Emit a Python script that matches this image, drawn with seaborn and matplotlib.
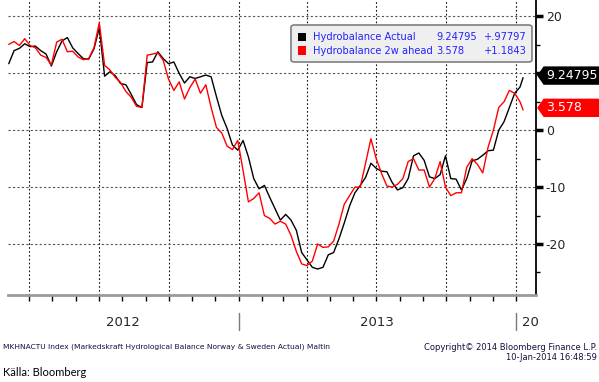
import numpy as np
import pandas as pd
import matplotlib
matplotlib.use('Agg')
import matplotlib.pyplot as plt
import matplotlib.dates as mdates
import matplotlib.ticker as mticker
import matplotlib.transforms as mtrans
from matplotlib.patches import FancyBboxPatch, Polygon, Rectangle
import seaborn as sns

# Weekly readings (Mondays) plus the last print on 10 Jan 2014
dates = list(pd.date_range('2012-03-05', '2014-01-06', freq='7D')) + [pd.Timestamp('2014-01-10')]

actual = [11.7, 14.0, 14.4, 15.2, 14.7, 14.8, 14.0, 13.4, 11.3, 13.8,
          15.7, 16.3, 14.5, 13.5, 12.6, 12.5, 14.3, 18.0, 9.5, 10.3,
          9.6, 8.2, 8.0, 6.3, 4.5, 4.0, 11.9, 12.0, 13.8, 12.6,
          11.7, 12.0, 10.0, 8.3, 9.4, 9.1, 9.4, 9.7, 9.4, 5.9,
          2.6, 0.3, -2.6, -3.5, -1.8, -4.7, -8.5, -10.3, -9.7, -11.8,
          -13.8, -15.8, -14.8, -15.8, -17.6, -21.5, -22.8, -24.1, -24.4, -24.1,
          -21.9, -21.5, -19.1, -16.3, -13.3, -11.0, -9.7, -8.3, -5.8, -6.7,
          -7.2, -7.3, -9.2, -10.5, -10.1, -8.5, -4.5, -4.0, -5.3, -8.2,
          -8.5, -7.8, -4.5, -8.5, -8.6, -10.5, -8.5, -5.4, -5.1, -4.4,
          -3.6, -3.5, 0.0, 1.5, 4.0, 6.5, 7.6, 9.24795]

ahead_2w = [15.1, 15.6, 14.9, 16.1, 14.9, 14.5, 13.2, 12.8, 11.5, 15.5,
            16.0, 13.8, 13.9, 12.9, 12.4, 12.6, 14.5, 18.9, 11.4, 10.6,
            9.3, 8.4, 6.8, 5.8, 4.2, 4.0, 13.2, 13.4, 13.6, 12.3,
            9.0, 7.0, 8.5, 5.5, 7.5, 9.0, 6.5, 8.0, 4.0, 0.5,
            -0.5, -2.8, -3.4, -1.8, -7.1, -12.6, -12.0, -11.0, -15.0, -15.5,
            -16.5, -16.0, -16.5, -18.5, -21.3, -23.5, -23.8, -23.0, -20.0, -20.6,
            -20.5, -19.5, -16.5, -13.0, -11.5, -10.0, -10.0, -5.8, -1.5, -5.0,
            -7.6, -9.8, -10.0, -9.5, -8.5, -5.5, -5.0, -7.0, -7.0, -10.0,
            -8.5, -5.5, -10.0, -11.5, -11.0, -11.0, -6.5, -5.0, -6.0, -7.5,
            -3.0, 0.0, 4.0, 5.0, 7.0, 6.5, 5.0, 3.578]

series_names = ['Hydrobalance Actual', 'Hydrobalance 2w ahead']
series_colors = ['black', 'red']
last_values = ['9.24795', '3.578']
changes = ['+.97797', '+1.1843']

df = pd.DataFrame({'date': dates * 2,
                   'value': actual + ahead_2w,
                   'series': [series_names[0]] * len(dates) + [series_names[1]] * len(dates)})

sns.set_style('white')
plt.rcParams['font.family'] = ['DejaVu Sans']

W, H = 599, 382
fig = plt.figure(figsize=(W / 100, H / 100), dpi=100)
ax = fig.add_axes([8 / W, 1 - 295 / H, 528 / W, 295 / H])

sns.lineplot(data=df, x='date', y='value', hue='series',
             palette=dict(zip(series_names, series_colors)),
             linewidth=1.0, legend=False, ax=ax)

ax.set_xlim(pd.Timestamp('2012-03-04'), pd.Timestamp('2014-01-27'))
ax.set_ylim(-28.97, 22.9)
ax.set_xlabel('')
ax.set_ylabel('')

# axes frame
for s in ['top', 'left']:
    ax.spines[s].set_visible(False)
ax.spines['right'].set_color('black')
ax.spines['right'].set_linewidth(1.3)
ax.spines['bottom'].set_color('#9a9a9a')
ax.spines['bottom'].set_linewidth(2)

# x ticks: monthly marks, quarterly grid
ax.xaxis.set_major_locator(mdates.MonthLocator(bymonth=[1, 4, 7, 10]))
ax.xaxis.set_minor_locator(mdates.MonthLocator())
ax.xaxis.set_major_formatter(mticker.NullFormatter())
ax.tick_params(axis='x', which='both', direction='out', length=4, width=1,
               color='black', bottom=True)

# y ticks on the right
ax.yaxis.tick_right()
ax.yaxis.set_major_locator(mticker.MultipleLocator(10))
ax.yaxis.set_minor_locator(mticker.MultipleLocator(5))
ax.yaxis.set_major_formatter(mticker.FuncFormatter(lambda v, p: '' if round(v) == 10 else f'{v:.0f}'))
ax.tick_params(axis='y', which='major', direction='out', length=5, width=2.5,
               color='black', labelsize=9, pad=2, right=True)
ax.tick_params(axis='y', which='minor', direction='out', length=3, width=1,
               color='black', right=True)

ax.xaxis.grid(True, which='major', color='#111111', linestyle=(0, (1.5, 2)), linewidth=0.8)
ax.yaxis.grid(True, which='major', color='#555555', linestyle=(0, (2, 2)), linewidth=0.8)

# year labels under the axis
blend = mtrans.blended_transform_factory(ax.transData, ax.transAxes)
x0 = mdates.date2num(pd.Timestamp('2012-03-04'))
y13 = mdates.date2num(pd.Timestamp('2013-01-01'))
y14 = mdates.date2num(pd.Timestamp('2014-01-01'))
ax.text((x0 + y13) / 2, -0.092, '2012', transform=blend, ha='center', va='center', fontsize=9.5)
ax.text((y13 + y14) / 2, -0.092, '2013', transform=blend, ha='center', va='center', fontsize=9.5)
ax.text(y14 + 8, -0.092, '20', transform=blend, ha='left', va='center', fontsize=9.5)
for xs in [y13, y14]:
    ax.plot([xs, xs], [-0.06, -0.118], transform=blend, color='#7a7a7a', lw=1, clip_on=False)

# last value tags on the right
for val, txt, col in zip([actual[-1], ahead_2w[-1]], last_values, series_colors):
    yc = 130.2 - val * 5.69 - 2
    pts = [(538, yc), (544, yc - 8.5), (599, yc - 8.5), (599, yc + 8.5), (544, yc + 8.5)]
    pts = [(x / W, 1 - y / H) for x, y in pts]
    fig.add_artist(Polygon(pts, closed=True, facecolor=col, edgecolor=col,
                           transform=fig.transFigure, zorder=5))
    fig.text(546 / W, 1 - yc / H, txt, color='white', fontsize=9, va='center', ha='left', zorder=6)

# legend box
fig.add_artist(FancyBboxPatch((291 / W, 1 - 62 / H), 241 / W, 37 / H,
                              boxstyle='round,pad=0,rounding_size=0.006',
                              facecolor='#efefef', edgecolor='#7f7f7f', lw=1.2,
                              transform=fig.transFigure, zorder=5))
for i, (name, col, lv, ch) in enumerate(zip(series_names, series_colors, last_values, changes)):
    yc = 37 + i * 13.5
    fig.add_artist(Rectangle((298 / W, 1 - (yc + 4) / H), 8 / W, 8 / H, facecolor=col,
                             edgecolor='none', transform=fig.transFigure, zorder=6))
    fig.text(313 / W, 1 - yc / H, name, color='#2222ff', fontsize=7.1, va='center', zorder=6)
    fig.text(436 / W, 1 - yc / H, lv, color='#2222ff', fontsize=7.1, va='center', zorder=6)
    fig.text(527 / W, 1 - yc / H, ch, color='#2222ff', fontsize=7.1, va='center', ha='right', zorder=6)

# footer
fig.text(3 / W, 1 - 347 / H,
         'MKHNACTU Index (Markedskraft Hydrological Balance Norway & Sweden Actual) Maltin',
         fontsize=5.4, color='#101040', va='center')
fig.text(597 / W, 1 - 347 / H, 'Copyright\u00a9 2014 Bloomberg Finance L.P.',
         fontsize=6.0, color='#101040', va='center', ha='right')
fig.text(597 / W, 1 - 358 / H, '10-Jan-2014 16:48:59',
         fontsize=6.0, color='#101040', va='center', ha='right')
fig.text(3 / W, 1 - 373 / H, 'Källa: Bloomberg', fontsize=8, color='black', va='center',
         family=['Lato', 'DejaVu Sans'])

fig.savefig('out.png', dpi=100)
